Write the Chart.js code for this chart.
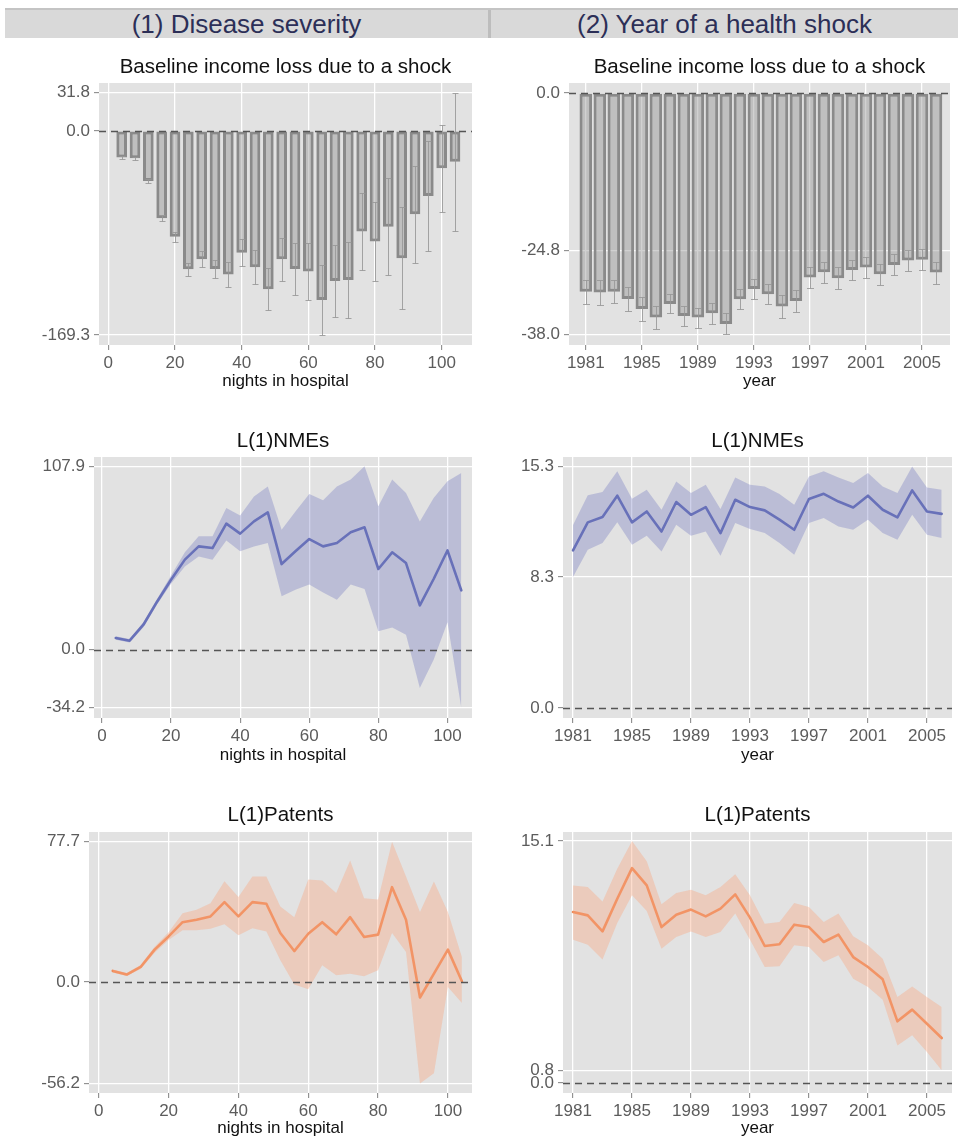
<!DOCTYPE html>
<html>
<head>
<meta charset="utf-8">
<title>Income loss and NMEs / patents by disease severity and year</title>
<script src="https://cdn.jsdelivr.net/npm/chart.js@4/dist/chart.umd.min.js"></script>
<style>
  html, body { margin: 0; padding: 0; background: #ffffff; }
  body { width: 958px; height: 1140px; position: relative; overflow: hidden;
         font-family: "Liberation Sans", Arial, Helvetica, sans-serif; }
  .strip { position: absolute; top: 8px; left: 5px; width: 953px; height: 28px;
           background: #d9d9d9; border-top: 2px solid #c4c4c4; }
  .strip .cell { position: absolute; top: 0; height: 28px; line-height: 28px; text-align: center;
                 font-size: 26px; color: #2c2f57; }
  .strip .divider { position: absolute; top: 0; left: 483px; width: 3px; height: 28px; background: #bdbdbd; }
  canvas { position: absolute; display: block; }
</style>
</head>
<body>
<div class="strip">
  <div class="cell" style="left:0;width:483px;">(1) Disease severity</div>
  <div class="divider"></div>
  <div class="cell" style="left:486px;width:467px;">(2) Year of a health shock</div>
</div>
<canvas id="c1" width="480" height="353" style="left:0;top:42px;"></canvas>
<canvas id="c2" width="478" height="353" style="left:480px;top:42px;"></canvas>
<canvas id="c3" width="480" height="355" style="left:0;top:415px;"></canvas>
<canvas id="c4" width="478" height="355" style="left:480px;top:415px;"></canvas>
<canvas id="c5" width="480" height="350" style="left:0;top:790px;"></canvas>
<canvas id="c6" width="478" height="350" style="left:480px;top:790px;"></canvas>

<script>
// ---- categories -------------------------------------------------------
const nights = [4, 8, 12, 16, 20, 24, 28, 32, 36, 40, 44, 48, 52, 56, 60, 64, 68, 72, 76, 80, 84, 88, 92, 96, 100, 104];
const years  = [1981, 1982, 1983, 1984, 1985, 1986, 1987, 1988, 1989, 1990, 1991, 1992, 1993,
                1994, 1995, 1996, 1997, 1998, 1999, 2000, 2001, 2002, 2003, 2004, 2005, 2006];

// ---- baseline income loss, by nights in hospital ------------------------
const lossNights   = [-22.1, -22.7, -41.5, -72.5, -87.7, -114.8, -106.5, -114.5, -119.0, -101.0, -113.0, -131.4, -106.5,
                      -114.5, -116.7, -140.2, -124.5, -123.7, -83.5, -91.8, -79.4, -105.7, -69.2, -54.0, -31.0, -25.5];
const lossNightsLo = [-23.6, -24.2, -43.5, -75.0, -91.8, -120.3, -113.1, -122.2, -129.1, -112.2, -126.9, -148.7, -124.3,
                      -136.0, -140.1, -169.3, -154.5, -155.1, -115.3, -124.3, -119.5, -148.0, -109.3, -100.0, -67.2, -82.8];
const lossNightsHi = [-20.6, -21.2, -39.5, -70.0, -83.6, -109.3, -99.9, -106.8, -108.9, -89.8, -99.1, -114.1, -88.7,
                      -93.0, -93.3, -111.1, -94.5, -92.3, -51.7, -59.3, -39.3, -63.4, -29.1, -8.0, 5.2, 31.8];

// ---- baseline income loss, by year of the shock --------------------------
const lossYears   = [-31.26, -31.40, -31.26, -32.40, -34.00, -35.35, -33.20, -35.10, -35.35, -34.67, -36.35, -32.46, -30.83,
                     -31.67, -33.60, -32.72, -29.05, -28.20, -29.15, -27.84, -27.47, -28.52, -27.05, -26.37, -26.26, -28.26];
const lossYearsLo = [-33.15, -33.34, -33.10, -34.24, -35.84, -37.14, -34.70, -36.68, -36.93, -36.32, -38.00, -34.04, -32.41,
                     -33.27, -35.36, -34.48, -30.70, -29.85, -30.86, -29.47, -29.12, -30.17, -28.70, -28.00, -27.91, -29.99];
const lossYearsHi = [-29.37, -29.46, -29.42, -30.56, -32.16, -33.56, -31.70, -33.52, -33.77, -33.02, -34.70, -30.88, -29.25,
                     -30.07, -31.84, -30.96, -27.40, -26.55, -27.44, -26.21, -25.82, -26.87, -25.40, -24.74, -24.61, -26.53];

// ---- L(1)NMEs --------------------------------------------------------------
const nmeNights   = [6.9, 5.3, 14.7, 28.4, 41.2, 53.0, 60.8, 59.8, 74.2, 68.3, 75.5, 80.8, 50.4,
                     57.9, 65.1, 60.8, 62.8, 69.1, 72.0, 47.5, 57.3, 51.0, 26.1, 41.6, 58.4, 34.9];
const nmeNightsLo = [5.9, 4.3, 13.2, 26.8, 38.8, 49.0, 54.9, 53.0, 64.3, 57.9, 60.8, 62.8, 31.4,
                     35.3, 38.3, 33.7, 29.4, 38.3, 35.7, 10.8, 13.1, 8.8, -22.6, -5.9, 16.1, -34.2];
const nmeNightsHi = [7.9, 6.3, 16.2, 30.0, 43.6, 57.3, 66.7, 66.7, 83.4, 78.9, 90.2, 96.1, 70.6,
                     81.4, 91.6, 87.9, 96.1, 100.1, 107.9, 84.4, 100.1, 92.2, 75.5, 89.3, 99.1, 104.0];

const nmeYears   = [9.98, 11.76, 12.10, 13.45, 11.76, 12.45, 11.18, 13.05, 12.24, 12.73, 11.08, 13.19, 12.73,
                    12.52, 11.93, 11.29, 13.24, 13.57, 13.08, 12.70, 13.45, 12.56, 12.07, 13.78, 12.45, 12.30];
const nmeYearsLo = [8.30, 10.03, 10.45, 11.76, 10.34, 10.91, 9.92, 11.61, 10.91, 11.18, 9.65, 11.72, 11.34,
                    11.08, 10.45, 9.71, 11.72, 12.03, 11.50, 11.29, 11.93, 11.08, 10.66, 12.24, 10.98, 10.77];
const nmeYearsHi = [11.60, 13.47, 13.68, 14.99, 13.26, 13.83, 12.56, 14.35, 13.62, 14.14, 12.60, 14.60, 14.14,
                    14.03, 13.55, 12.88, 14.67, 14.99, 14.60, 14.25, 14.88, 14.03, 13.62, 15.30, 13.97, 13.83];

// ---- L(1)Patents -----------------------------------------------------------
const patNights   = [6.1, 4.1, 8.3, 17.9, 25.2, 33.1, 34.5, 36.3, 44.2, 36.3, 44.2, 43.3, 27.1,
                     17.1, 26.7, 33.1, 26.4, 35.9, 24.9, 26.2, 52.5, 34.5, -8.6, 4.6, 17.9, 0.4];
const patNightsLo = [5.3, 3.3, 7.2, 16.2, 23.3, 28.6, 28.6, 29.5, 31.9, 25.8, 29.8, 28.0, 12.0,
                     -1.4, -4.0, 9.2, 3.7, 4.6, 3.1, 6.5, 27.1, 16.6, -56.2, -50.6, -2.8, -11.6];
const patNightsHi = [6.9, 4.9, 9.4, 19.5, 27.5, 38.1, 40.0, 43.6, 55.8, 47.0, 58.4, 58.4, 41.8,
                     35.9, 56.7, 56.2, 49.2, 67.2, 46.4, 45.7, 77.7, 58.4, 38.7, 55.6, 38.7, 13.8];

const patYears   = [10.67, 10.46, 9.46, 11.50, 13.41, 12.33, 9.73, 10.50, 10.82, 10.40, 10.88, 11.77, 10.32,
                    8.55, 8.66, 9.88, 9.73, 8.80, 9.26, 7.86, 7.24, 6.47, 3.85, 4.58, 3.70, 2.81];
const patYearsLo = [8.94, 8.63, 7.70, 9.98, 11.71, 10.73, 8.38, 9.11, 9.46, 9.11, 9.42, 10.57, 8.94,
                    7.24, 7.28, 8.59, 8.48, 7.55, 7.97, 6.51, 5.99, 5.20, 2.35, 2.98, 1.93, 0.80];
const patYearsHi = [12.33, 12.23, 11.33, 13.37, 15.10, 13.83, 11.15, 11.85, 12.06, 11.71, 12.23, 13.02, 11.71,
                    9.94, 10.04, 11.23, 10.98, 10.04, 10.57, 9.15, 8.59, 7.76, 5.37, 6.03, 5.37, 4.74];

// ---- axis ticks ------------------------------------------------------------
const nightTicks = [0, 20, 40, 60, 80, 100];
const yearTicks  = [1981, 1985, 1989, 1993, 1997, 2001, 2005];
const lossNightsTicks = [-169.3, 0, 31.8];
const lossYearsTicks  = [-38.0, -24.8, 0];
const nmeNightsTicks  = [-34.2, 0, 107.9];
const nmeYearsTicks   = [0, 8.3, 15.3];
const patNightsTicks  = [-56.2, 0, 77.7];
const patYearsTicks   = [0, 0.8, 15.1];

// ---- drawing helpers -----------------------------------------------------
const FONT = '"Liberation Sans", Arial, Helvetica, sans-serif';
Chart.defaults.font.family = FONT;

const points = (xs, ys) => xs.map((x, i) => ({ x: x, y: ys[i] }));

// grey panel behind the grid
const panelBg = {
  id: 'panelBg',
  beforeDraw(chart) {
    const { ctx, chartArea: a } = chart;
    ctx.save();
    ctx.fillStyle = '#e2e2e2';
    ctx.fillRect(a.left, a.top, a.right - a.left, a.bottom - a.top);
    ctx.restore();
  }
};

// panel heading, centred over the plotting region
const panelTitle = {
  id: 'panelTitle',
  afterDraw(chart, args, opts) {
    const { ctx, chartArea: a } = chart;
    ctx.save();
    ctx.font = '20.5px ' + FONT;
    ctx.fillStyle = '#111111';
    ctx.textAlign = 'center';
    ctx.textBaseline = 'middle';
    ctx.fillText(opts.text, (a.left + a.right) / 2, opts.y);
    ctx.restore();
  }
};

// vertical confidence whiskers for bar datasets
const errorBars = {
  id: 'errorBars',
  afterDatasetsDraw(chart) {
    const { ctx, scales: { x, y } } = chart;
    chart.data.datasets.forEach(ds => {
      if (!ds.errLo) return;
      ctx.save();
      ctx.strokeStyle = ds.errColor;
      ctx.lineWidth = 1;
      ds.data.forEach((p, i) => {
        const px = Math.round(x.getPixelForValue(p.x)) + 0.5;
        const y0 = Math.round(y.getPixelForValue(ds.errLo[i])) + 0.5;
        const y1 = Math.round(y.getPixelForValue(ds.errHi[i])) + 0.5;
        ctx.beginPath();
        ctx.moveTo(px, y0); ctx.lineTo(px, y1);
        ctx.moveTo(px - ds.errCap, y0); ctx.lineTo(px + ds.errCap, y0);
        ctx.moveTo(px - ds.errCap, y1); ctx.lineTo(px + ds.errCap, y1);
        ctx.stroke();
      });
      ctx.restore();
    });
  }
};

// dashed reference line at zero
const zeroLine = {
  id: 'zeroLine',
  afterDatasetsDraw(chart) {
    const { ctx, chartArea: a, scales: { y } } = chart;
    const py = Math.round(y.getPixelForValue(0)) + 0.5;
    ctx.save();
    ctx.strokeStyle = '#555555';
    ctx.lineWidth = 1.5;
    ctx.setLineDash([7, 5]);
    ctx.beginPath();
    ctx.moveTo(a.left, py);
    ctx.lineTo(a.right, py);
    ctx.stroke();
    ctx.restore();
  }
};

function buildOptions(p) {
  return {
    responsive: false,
    animation: false,
    devicePixelRatio: 1,
    events: [],
    layout: { padding: { left: 0, right: p.padR, top: p.padTop, bottom: 0 } },
    plugins: {
      legend: { display: false },
      tooltip: { enabled: false },
      title: { display: false },
      panelTitle: { text: p.title, y: p.titleY }
    },
    scales: {
      x: {
        type: 'linear', min: p.xMin, max: p.xMax, offset: false,
        afterBuildTicks: s => { s.ticks = p.xTicks.map(v => ({ value: v })); },
        afterFit: s => { s.height = p.xAxisH; },
        grid: { color: '#ffffff', lineWidth: 1.3, offset: false, drawTicks: true,
                tickLength: 5, tickColor: '#808080', tickWidth: 1 },
        border: { display: false },
        ticks: { color: '#5c5c5c', font: { size: 17 }, padding: 3, maxRotation: 0,
                 autoSkip: false, callback: v => String(v) },
        title: { display: true, text: p.xTitle, color: '#111111',
                 font: { size: 17, lineHeight: 1.2 }, padding: { top: 0, bottom: p.xTitlePad } }
      },
      y: {
        type: 'linear', min: p.yMin, max: p.yMax,
        afterBuildTicks: s => { s.ticks = p.yTicks.map(v => ({ value: v })); },
        afterFit: s => { s.width = p.yAxisW; },
        grid: { color: c => (c.tick && c.tick.value === 0) ? 'rgba(0,0,0,0)' : '#ffffff',
                lineWidth: 1.3, drawTicks: true, tickLength: 5, tickColor: '#808080', tickWidth: 1 },
        border: { display: false },
        ticks: { color: '#5c5c5c', font: { size: 17 }, padding: 4, autoSkip: false,
                 callback: v => Number(v).toFixed(1) }
      }
    }
  };
}

function barPanel(id, p, xs, vals, lo, hi, barPct, cap) {
  new Chart(document.getElementById(id), {
    type: 'bar',
    data: {
      datasets: [{
        data: points(xs, vals),
        backgroundColor: 'rgba(140,140,140,0.40)',
        borderColor: '#8a8a8a',
        borderWidth: 3,
        borderSkipped: false,
        barPercentage: barPct,
        categoryPercentage: 1.0,
        errLo: lo, errHi: hi,
        errColor: 'rgba(150,150,150,0.85)',
        errCap: cap
      }]
    },
    options: buildOptions(p),
    plugins: [panelBg, errorBars, zeroLine, panelTitle]
  });
}

function bandPanel(id, p, xs, vals, lo, hi, lineColor, bandColor) {
  const clear = 'rgba(0,0,0,0)';
  new Chart(document.getElementById(id), {
    type: 'line',
    data: {
      datasets: [
        { data: points(xs, hi), fill: '+1', backgroundColor: bandColor, borderColor: clear,
          borderWidth: 1, pointRadius: 0, tension: 0 },
        { data: points(xs, lo), fill: false, borderColor: clear,
          borderWidth: 1, pointRadius: 0, tension: 0 },
        { data: points(xs, vals), fill: false, borderColor: lineColor,
          borderWidth: 2.6, pointRadius: 0, tension: 0, borderJoinStyle: 'round', borderCapStyle: 'round' }
      ]
    },
    options: buildOptions(p),
    plugins: [panelBg, zeroLine, panelTitle]
  });
}

const BLUE = '#6670b6', BLUE_BAND = 'rgba(110,115,190,0.33)';
const ORANGE = '#ee8a58', ORANGE_BAND = 'rgba(250,165,125,0.38)';

barPanel('c1', {
  title: 'Baseline income loss due to a shock', xTitle: 'nights in hospital',
  padTop: 41, titleY: 25, xAxisH: 50, xTitlePad: 3, yAxisW: 99, padR: 8,
  xMin: -2.8, xMax: 109.1, yMin: -177.6, yMax: 39.8, xTicks: nightTicks, yTicks: lossNightsTicks
}, nights, lossNights, lossNightsLo, lossNightsHi, 0.8, 3);

barPanel('c2', {
  title: 'Baseline income loss due to a shock', xTitle: 'year',
  padTop: 41, titleY: 25, xAxisH: 50, xTitlePad: 3, yAxisW: 89, padR: 8,
  xMin: 1979.8, xMax: 2007.0, yMin: -39.66, yMax: 1.58, xTicks: yearTicks, yTicks: lossYearsTicks
}, years, lossYears, lossYearsLo, lossYearsHi, 0.9, 3.5);

bandPanel('c3', {
  title: 'L(1)NMEs', xTitle: 'nights in hospital',
  padTop: 42, titleY: 26, xAxisH: 52, xTitlePad: 4.8, yAxisW: 94, padR: 8,
  xMin: -2.3, xMax: 107.1, yMin: -40.2, yMax: 113.4, xTicks: nightTicks, yTicks: nmeNightsTicks
}, nights, nmeNights, nmeNightsLo, nmeNightsHi, BLUE, BLUE_BAND);

bandPanel('c4', {
  title: 'L(1)NMEs', xTitle: 'year',
  padTop: 42, titleY: 26, xAxisH: 52, xTitlePad: 4.8, yAxisW: 83, padR: 6,
  xMin: 1980.32, xMax: 2006.7, yMin: -0.63, yMax: 15.9, xTicks: yearTicks, yTicks: nmeYearsTicks
}, years, nmeYears, nmeYearsLo, nmeYearsHi, BLUE, BLUE_BAND);

bandPanel('c5', {
  title: 'L(1)Patents', xTitle: 'nights in hospital',
  padTop: 42, titleY: 25, xAxisH: 47, xTitlePad: 1.8, yAxisW: 89, padR: 8,
  xMin: -2.8, xMax: 106.9, yMin: -61.5, yMax: 83.05, xTicks: nightTicks, yTicks: patNightsTicks
}, nights, patNights, patNightsLo, patNightsHi, ORANGE, ORANGE_BAND);

bandPanel('c6', {
  title: 'L(1)Patents', xTitle: 'year',
  padTop: 42, titleY: 25, xAxisH: 47, xTitlePad: 1.8, yAxisW: 83, padR: 6,
  xMin: 1980.32, xMax: 2006.7, yMin: -0.62, yMax: 15.66, xTicks: yearTicks, yTicks: patYearsTicks
}, years, patYears, patYearsLo, patYearsHi, ORANGE, ORANGE_BAND);
</script>
</body>
</html>
